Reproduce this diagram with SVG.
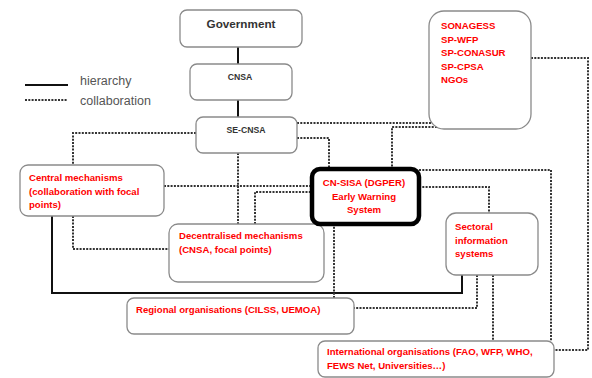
<svg xmlns="http://www.w3.org/2000/svg" width="592" height="378" viewBox="0 0 592 378">
<style>
.box{fill:#fff;stroke:#8a8a8a;stroke-width:1.3}
.main{fill:#fff;stroke:#000;stroke-width:4.5}
.hier{fill:none;stroke:#111;stroke-width:2}
.coll{fill:none;stroke:#333;stroke-width:2;stroke-dasharray:2 1.3}
.dk{font-family:"Liberation Sans",Arial,sans-serif;font-weight:bold;fill:#333}
.rd{font-family:"Liberation Sans",Arial,sans-serif;font-weight:bold;fill:#f00;font-size:9.6px}
.lg{font-family:"Liberation Sans",Arial,sans-serif;fill:#555;font-size:12.5px}
</style>
<rect width="592" height="378" fill="#fff"/>
<g id="legend">
<line x1="25" y1="85" x2="68" y2="85" class="hier"/>
<text x="80" y="85" class="lg">hierarchy</text>
<line x1="25" y1="100" x2="67" y2="100" class="coll"/>
<text x="80" y="105" class="lg">collaboration</text>
</g>
<g id="connectors">
<line x1="238" y1="47" x2="238" y2="64" class="hier"/>
<line x1="238" y1="100" x2="238" y2="117" class="hier"/>
<polyline points="52,216 52,293 462,293 462,275" class="hier"/>
<polyline points="196,133 73,133 73,165" class="coll"/>
<line x1="238" y1="153" x2="238" y2="224" class="coll"/>
<line x1="164" y1="186" x2="312" y2="186" class="coll"/>
<polyline points="255,224 255,192 312,192" class="coll"/>
<polyline points="73,216 73,249 169,249" class="coll"/>
<line x1="297" y1="123" x2="437" y2="123" class="coll"/>
<polyline points="297,138 329,138 329,169" class="coll"/>
<polyline points="437,127 392,127 392,169" class="coll"/>
<polyline points="419,170 551,170 551,341" class="coll"/>
<polyline points="419,187 489,187 489,213" class="coll"/>
<line x1="334" y1="207" x2="334" y2="298" class="coll"/>
<polyline points="477,275 477,308 354,308" class="coll"/>
<line x1="493" y1="275" x2="493" y2="341" class="coll"/>
<polyline points="531,58 588,58 588,350 554,350" class="coll"/>
</g>
<g id="government">
<rect x="180" y="10" width="122" height="37" rx="7" class="box"/>
<text x="241" y="28" class="dk" font-size="11.7" text-anchor="middle">Government</text>
</g>
<g id="cnsa">
<rect x="190" y="64" width="102" height="36" rx="7" class="box"/>
<text x="240" y="80" class="dk" font-size="8.7" text-anchor="middle">CNSA</text>
</g>
<g id="se-cnsa">
<rect x="196" y="117" width="101" height="36" rx="7" class="box"/>
<text x="246" y="133" class="dk" font-size="8.7" text-anchor="middle">SE-CNSA</text>
</g>
<g id="sonagess">
<rect x="429" y="11" width="102" height="118" rx="15" class="box"/>
<text class="rd"><tspan x="441" y="29">SONAGESS</tspan><tspan x="441" y="42.5">SP-WFP</tspan><tspan x="441" y="56">SP-CONASUR</tspan><tspan x="441" y="69.5">SP-CPSA</tspan><tspan x="441" y="83">NGOs</tspan></text>
</g>
<g id="central">
<rect x="20" y="165" width="144" height="51" rx="8" class="box"/>
<text class="rd"><tspan x="29" y="181">Central mechanisms</tspan><tspan x="29" y="194.5">(collaboration  with focal</tspan><tspan x="29" y="208">points)</tspan></text>
</g>
<g id="decentralised">
<rect x="169" y="224" width="155" height="58" rx="9" class="box"/>
<text class="rd"><tspan x="179" y="239">Decentralised mechanisms</tspan><tspan x="179" y="252.5">(CNSA, focal points)</tspan></text>
</g>
<g id="cn-sisa">
<rect x="312" y="169" width="107" height="55" rx="8" class="main"/>
<text class="rd" text-anchor="middle"><tspan x="364" y="186">CN-SISA (DGPER)</tspan><tspan x="364" y="199.5">Early Warning</tspan><tspan x="364" y="213">System</tspan></text>
</g>
<g id="sectoral">
<rect x="446" y="213" width="92" height="62" rx="10" class="box"/>
<text class="rd"><tspan x="455" y="230">Sectoral</tspan><tspan x="455" y="243.5">information</tspan><tspan x="455" y="257">systems</tspan></text>
</g>
<g id="regional">
<rect x="127" y="298" width="227" height="36" rx="7" class="box"/>
<text x="136" y="313" class="rd">Regional organisations (CILSS, UEMOA)</text>
</g>
<g id="international">
<rect x="318" y="341" width="236" height="36" rx="7" class="box"/>
<text class="rd"><tspan x="327" y="355">International organisations (FAO, WFP, WHO,</tspan><tspan x="327" y="369">FEWS Net, Universities…)</tspan></text>
</g>
</svg>
